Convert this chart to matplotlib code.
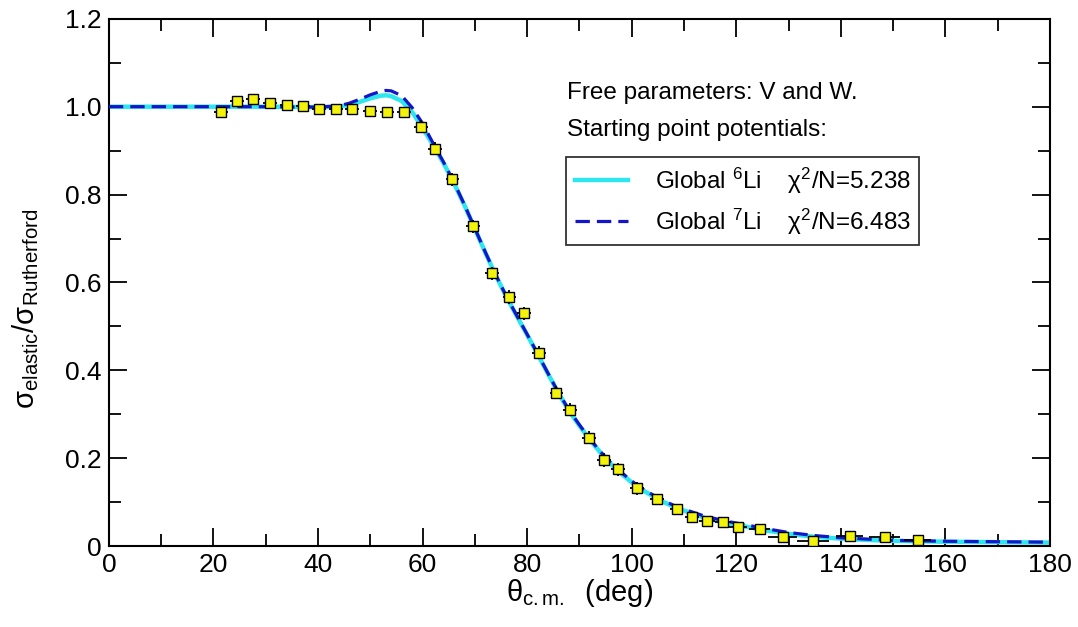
import numpy as np
import matplotlib
matplotlib.use("Agg")
import matplotlib.pyplot as plt

plt.rcParams['font.family'] = ['Liberation Sans', 'DejaVu Sans']
plt.rcParams['mathtext.fontset'] = 'custom'
plt.rcParams['mathtext.rm'] = 'Liberation Sans'
plt.rcParams['mathtext.it'] = 'Liberation Sans:italic'
plt.rcParams['mathtext.sf'] = 'Liberation Sans'

# dados experimentais
theta_exp = [21.4, 24.5, 27.6, 30.8, 34.0, 37.1, 40.2, 43.4, 46.5, 49.9, 53.2, 56.4,
             59.7, 62.4, 65.7, 69.6, 73.3, 76.6, 79.4, 82.3, 85.6, 88.2, 91.8, 94.7,
             97.4, 101.0, 104.8, 108.6, 111.5, 114.4, 117.4, 120.3, 124.5, 128.9,
             134.7, 141.7, 148.4, 154.7]
ratio_exp = [0.988, 1.013, 1.017, 1.008, 1.004, 1.002, 0.995, 0.995, 0.995, 0.990, 0.988, 0.988,
             0.954, 0.904, 0.835, 0.728, 0.621, 0.567, 0.530, 0.440, 0.349, 0.310, 0.247, 0.196,
             0.175, 0.132, 0.107, 0.084, 0.066, 0.057, 0.055, 0.043, 0.039, 0.020,
             0.011, 0.023, 0.020, 0.014]
xerr_exp = [1.3] * 12 + [1.3] * 17 + [1.5, 1.5, 1.8, 2.0, 2.8, 3.0, 2.6, 3.0, 2.6]
yerr_exp = [0.006] * 12 + [0.015] * 14 + [0.008] * 12

# curvas teoricas
theta_fit = [0, 10, 20, 30, 40, 44, 46, 48, 50, 52, 53, 54, 56, 58, 60, 62, 64, 66, 68,
             70, 72, 74, 76, 78, 80, 82, 84, 86, 88, 90, 92, 94, 96, 98, 100, 102, 104,
             106, 108, 110, 114, 118, 122, 126, 130, 135, 140, 145, 150, 160, 170, 180]
li6_fit = [1.000, 1.000, 1.000, 1.000, 0.999, 1.000, 1.004, 1.011, 1.019, 1.025, 1.026, 1.024,
           1.013, 0.988, 0.952, 0.913, 0.872, 0.826, 0.776,
           0.722, 0.668, 0.616, 0.568, 0.524, 0.481, 0.437, 0.392, 0.348, 0.308, 0.274,
           0.242, 0.213, 0.187, 0.165, 0.145, 0.128, 0.114, 0.101, 0.090, 0.081, 0.064,
           0.053, 0.044, 0.035, 0.028, 0.021, 0.017, 0.014, 0.012, 0.010, 0.009, 0.008]
li7_fit = [1.000, 1.000, 1.000, 1.000, 0.999, 1.002, 1.008, 1.017, 1.027, 1.035, 1.037, 1.036,
           1.025, 0.998, 0.962, 0.917, 0.874, 0.828, 0.777,
           0.723, 0.669, 0.617, 0.569, 0.525, 0.482, 0.438, 0.393, 0.349, 0.310, 0.276,
           0.244, 0.215, 0.190, 0.168, 0.148, 0.131, 0.117, 0.104, 0.093, 0.084, 0.068,
           0.057, 0.048, 0.039, 0.031, 0.024, 0.019, 0.016, 0.013, 0.011, 0.010, 0.009]

fig = plt.figure(figsize=(10.78, 6.27), dpi=100)
ax = fig.add_axes([0.101, 0.129, 0.873, 0.841])

l6, = ax.plot(theta_fit, li6_fit, color='#2ee6ee', lw=3.2, zorder=2)
l7, = ax.plot(theta_fit, li7_fit, color='#1414c8', lw=2.3, dashes=(4.5, 2.2), zorder=3)

ax.errorbar(theta_exp, ratio_exp, xerr=xerr_exp, yerr=yerr_exp, fmt='s',
            ms=6.5, mfc='#f2f20a', mec='black', mew=1.0, ecolor='black',
            elinewidth=1.3, capsize=0, zorder=4)

ax.set_xlim(0, 180)
ax.set_ylim(0, 1.2)
ax.set_xticks(np.arange(0, 181, 20))
ax.set_xticks(np.arange(0, 181, 10), minor=True)
ax.set_yticks([0, 0.2, 0.4, 0.6, 0.8, 1.0, 1.2])
ax.set_yticklabels(['0', '0.2', '0.4', '0.6', '0.8', '1.0', '1.2'])
ax.set_yticks(np.arange(0, 1.21, 0.1), minor=True)
ax.tick_params(which='both', direction='in', top=True, right=True, labelsize=19, width=1.3)
ax.tick_params(which='major', length=13, pad=5)
ax.tick_params(which='minor', length=8.5)
for s in ax.spines.values():
    s.set_linewidth(1.5)

ax.set_xlabel(r'θ$_{\rm c.m.}$  (deg)', fontsize=21, labelpad=0)
ax.set_ylabel(r'σ$_{\rm elastic}$/σ$_{\rm Rutherford}$', fontsize=21)
ax.yaxis.set_label_coords(-0.072, 0.45)

ax.text(0.487, 0.86, 'Free parameters: V and W.', transform=ax.transAxes,
        fontsize=17.5, va='center')
ax.text(0.487, 0.79, 'Starting point potentials:', transform=ax.transAxes,
        fontsize=17.5, va='center')

leg = ax.legend([l6, l7],
                [r'Global $^{6}$Li    χ$^{2}$/N=5.238',
                 r'Global $^{7}$Li    χ$^{2}$/N=6.483'],
                loc='upper left', bbox_to_anchor=(0.486, 0.738), borderaxespad=0,
                fontsize=17.5, frameon=True, fancybox=False, edgecolor='black',
                handlelength=2.2, handletextpad=1.1, borderpad=0.35, labelspacing=0.45)
leg.get_frame().set_linewidth(1.3)

fig.savefig('out.png', dpi=100)
